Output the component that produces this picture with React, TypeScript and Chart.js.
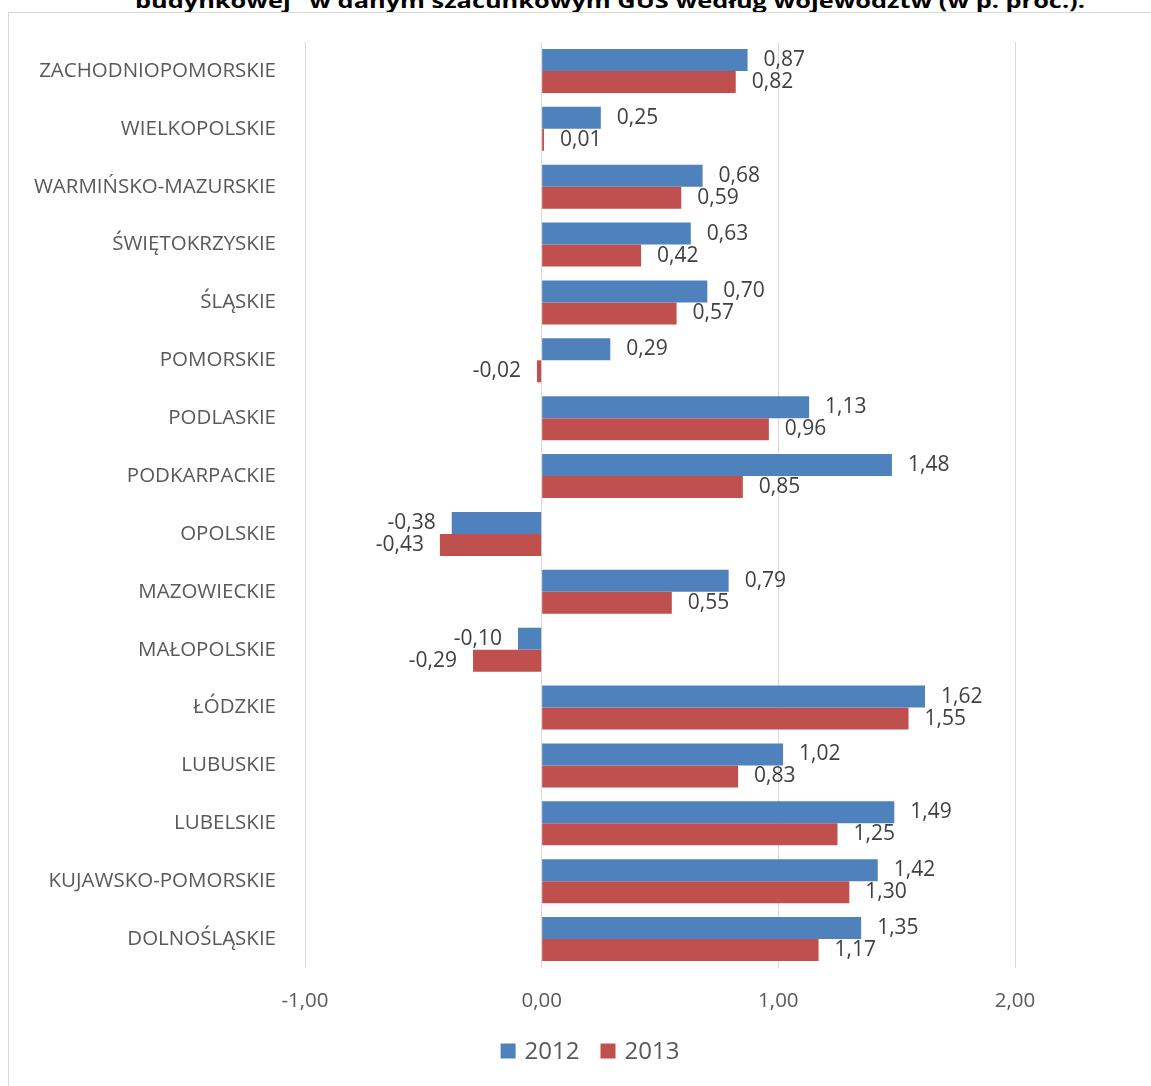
import React, { useEffect, useRef } from "react";
import { Chart, registerables } from "chart.js";

Chart.register(...registerables);

const titleText = 'budynkowej" w danym szacunkowym GUS według województw (w p. proc.).';

const categories = [
  "ZACHODNIOPOMORSKIE",
  "WIELKOPOLSKIE",
  "WARMIŃSKO-MAZURSKIE",
  "ŚWIĘTOKRZYSKIE",
  "ŚLĄSKIE",
  "POMORSKIE",
  "PODLASKIE",
  "PODKARPACKIE",
  "OPOLSKIE",
  "MAZOWIECKIE",
  "MAŁOPOLSKIE",
  "ŁÓDZKIE",
  "LUBUSKIE",
  "LUBELSKIE",
  "KUJAWSKO-POMORSKIE",
  "DOLNOŚLĄSKIE",
];

const series2012 = [0.87, 0.25, 0.68, 0.63, 0.7, 0.29, 1.13, 1.48, -0.38, 0.79, -0.1, 1.62, 1.02, 1.49, 1.42, 1.35];
const series2013 = [0.82, 0.01, 0.59, 0.42, 0.57, -0.02, 0.96, 0.85, -0.43, 0.55, -0.29, 1.55, 0.83, 1.25, 1.3, 1.17];

const seriesNames = ["2012", "2013"];
const seriesColors = ["#4f81bd", "#c0504d"];
const xMin = -1;
const xMax = 2;

const fmt = (v: number) => v.toFixed(2).replace(".", ",");

const FONT = "'Open Sans', 'DejaVu Sans', sans-serif";

const dataLabelsPlugin = {
  id: "dataLabels",
  afterDatasetsDraw(chart: any) {
    const ctx = chart.ctx;
    ctx.save();
    ctx.font = `21px ${FONT}`;
    ctx.fillStyle = "#404040";
    ctx.textBaseline = "middle";
    chart.data.datasets.forEach((ds: any, i: number) => {
      const meta = chart.getDatasetMeta(i);
      meta.data.forEach((bar: any, j: number) => {
        const v = ds.data[j] as number;
        const { x, y } = bar.getProps(["x", "y"], true);
        if (v >= 0) {
          ctx.textAlign = "left";
          ctx.fillText(fmt(v), x + 16, y);
        } else {
          ctx.textAlign = "right";
          ctx.fillText(fmt(v), x - 16, y);
        }
      });
    });
    ctx.restore();
  },
};

const legendPlugin = {
  id: "customLegend",
  afterDraw(chart: any) {
    const ctx = chart.ctx;
    ctx.save();
    ctx.font = `24px ${FONT}`;
    ctx.textBaseline = "middle";
    ctx.textAlign = "left";
    const box = 15;
    const gapBoxText = 9;
    const gapItems = 21;
    const items = chart.data.datasets.map((ds: any) => ({
      label: ds.label,
      color: ds.backgroundColor,
      w: ctx.measureText(ds.label).width,
    }));
    let total = 0;
    items.forEach((it: any, i: number) => {
      total += box + gapBoxText + it.w + (i < items.length - 1 ? gapItems : 0);
    });
    const cx = 581;
    const cy = 1038;
    let x = cx - total / 2;
    items.forEach((it: any) => {
      ctx.fillStyle = it.color;
      ctx.fillRect(x, cy - box / 2, box, box);
      x += box + gapBoxText;
      ctx.fillStyle = "#595959";
      ctx.fillText(it.label, x, cy + 1);
      x += it.w + gapItems;
    });
    ctx.restore();
  },
};

export default function App() {
  const canvasRef = useRef<HTMLCanvasElement | null>(null);

  useEffect(() => {
    if (!canvasRef.current) return;
    const chart = new Chart(canvasRef.current, {
      type: "bar",
      data: {
        labels: categories,
        datasets: [
          {
            label: seriesNames[0],
            data: series2012,
            backgroundColor: seriesColors[0],
            borderWidth: 0,
            categoryPercentage: 0.76,
            barPercentage: 1,
          },
          {
            label: seriesNames[1],
            data: series2013,
            backgroundColor: seriesColors[1],
            borderWidth: 0,
            categoryPercentage: 0.76,
            barPercentage: 1,
          },
        ],
      },
      options: {
        indexAxis: "y",
        responsive: false,
        animation: false,
        layout: { padding: { top: 29, right: 136, bottom: 68, left: 0 } },
        plugins: {
          legend: { display: false },
          tooltip: { enabled: false },
          title: { display: false },
        },
        scales: {
          x: {
            min: xMin,
            max: xMax,
            ticks: {
              stepSize: 1,
              padding: 21,
              color: "#595959",
              font: { size: 20.5, family: FONT },
              callback: (v: any) => fmt(Number(v)),
            },
            grid: { color: "#d9d9d9", lineWidth: 1, drawTicks: false },
            border: { display: false },
            afterFit: (scale: any) => {
              scale.height = 50;
              scale.paddingLeft = 0;
              scale.paddingRight = 0;
            },
          },
          y: {
            ticks: {
              padding: 29,
              color: "#595959",
              font: { size: 20.5, family: FONT },
            },
            grid: { display: false, drawTicks: false },
            border: { display: false },
            afterFit: (scale: any) => {
              scale.width = 296;
              scale.paddingTop = 0;
              scale.paddingBottom = 0;
            },
          },
        },
      },
      plugins: [dataLabelsPlugin, legendPlugin],
    } as any);
    return () => chart.destroy();
  }, []);

  return (
    <div
      style={{
        position: "absolute",
        left: 0,
        top: 0,
        width: 1151,
        height: 1086,
        overflow: "hidden",
        background: "#fff",
      }}
    >
      <div
        style={{
          position: "absolute",
          left: 135,
          top: -8,
          whiteSpace: "nowrap",
          fontFamily: FONT,
          fontWeight: 700,
          fontSize: 19,
          lineHeight: 1,
          color: "#000",
          transform: "scaleX(1.335)",
          transformOrigin: "left top",
        }}
      >
        {titleText}
      </div>
      <div
        style={{
          position: "absolute",
          left: 8,
          top: 12,
          width: 1200,
          height: 1200,
          border: "1px solid #d9d9d9",
        }}
      />
      <div style={{ position: "absolute", left: 9, top: 13, width: 1142, height: 1073 }}>
        <canvas ref={canvasRef} width={1142} height={1073} />
      </div>
    </div>
  );
}
